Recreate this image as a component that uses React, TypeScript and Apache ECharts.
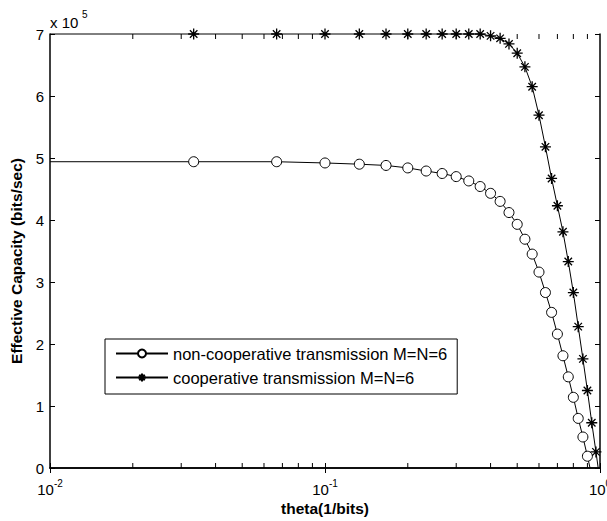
import React, { useEffect, useRef } from "react";
import * as echarts from "echarts";

const theta = [
  0.0333, 0.0667, 0.1, 0.1333, 0.1667, 0.2, 0.2333, 0.2667, 0.3, 0.3333,
  0.3667, 0.4, 0.4333, 0.4667, 0.5, 0.5333, 0.5667, 0.6, 0.6333, 0.6667,
  0.7, 0.7333, 0.7667, 0.8, 0.8333, 0.8667, 0.9, 0.9333, 0.9667, 1.0,
];

// Effective capacity values (x 10^5 bits/sec)
const nonCoopValues = [
  4.94, 4.94, 4.92, 4.9, 4.88, 4.84, 4.79, 4.75, 4.7, 4.63,
  4.54, 4.43, 4.3, 4.12, 3.93, 3.69, 3.45, 3.16, 2.83, 2.51,
  2.16, 1.81, 1.47, 1.14, 0.8, 0.5, 0.19,
];
const coopValues = [
  7.0, 7.0, 7.0, 7.0, 7.0, 7.0, 7.0, 7.0, 7.0, 7.0,
  7.0, 6.97, 6.93, 6.84, 6.69, 6.47, 6.15, 5.69, 5.18, 4.67,
  4.23, 3.81, 3.33, 2.83, 2.28, 1.76, 1.25, 0.73, 0.26,
];
// line ends (no marker): left edge start value and zero crossing theta
const nonCoopStart = [0.01, 4.94];
const nonCoopEnd = [0.92, 0];
const coopStart = [0.01, 7.0];
const coopEnd = [0.985, 0];

const seriesNames = [
  "non-cooperative transmission M=N=6",
  "cooperative transmission M=N=6",
];
const minorTicks = [
  0.02, 0.03, 0.04, 0.05, 0.06, 0.07, 0.08, 0.09,
  0.2, 0.3, 0.4, 0.5, 0.6, 0.7, 0.8, 0.9,
];
const xLabel = "theta(1/bits)";
const yLabel = "Effective Capacity (bits/sec)";

const FONT = "'Liberation Sans', Arial, Helvetica, sans-serif";
const YMAX = 7;
const STAR = "path://M5,0L5,10M0,5L10,5M1.6,1.6L8.4,8.4M8.4,1.6L1.6,8.4";

function buildData(start: number[], vals: number[], end: number[]) {
  const out: any[] = [{ value: start, symbol: "none" }];
  vals.forEach((v, i) => out.push({ value: [theta[i], v] }));
  out.push({ value: end, symbol: "none" });
  return out;
}

export default function App() {
  const ref = useRef<HTMLDivElement>(null);
  useEffect(() => {
    document.body.style.margin = "0";
    const chart = echarts.init(ref.current!, null, { renderer: "svg" });
    const axisLineStyle = { color: "#000", width: 1.5 };
    chart.setOption({
      animation: false,
      backgroundColor: "#fff",
      textStyle: { fontFamily: FONT, color: "#000" },
      grid: { left: 50, right: 7, top: 34, bottom: 53, containLabel: false, outerBoundsMode: "none" },
      xAxis: [
        {
          type: "log",
          logBase: 10,
          min: 0.01,
          max: 1,
          position: "bottom",
          axisLine: { show: true, lineStyle: axisLineStyle },
          axisTick: { show: true, inside: true, length: 5, lineStyle: { color: "#000" } },
          splitLine: { show: false },
          axisLabel: {
            show: true,
            margin: 10,
            color: "#000",
            formatter: (v: number) => {
              const e = Math.round(Math.log10(v));
              return `{b|10}{s|${e}}`;
            },
            rich: {
              b: { fontSize: 15, fontFamily: FONT, color: "#000", verticalAlign: "bottom" },
              s: { fontSize: 10, fontFamily: FONT, color: "#000", verticalAlign: "bottom", padding: [0, 0, 9, 0] },
            },
          },
        },
        {
          type: "log",
          logBase: 10,
          min: 0.01,
          max: 1,
          position: "top",
          axisLine: { show: true, lineStyle: axisLineStyle },
          axisTick: { show: true, inside: true, length: 5, lineStyle: { color: "#000" } },
          splitLine: { show: false },
          axisLabel: { show: false },
        },
      ],
      yAxis: [
        {
          type: "value",
          min: 0,
          max: YMAX,
          interval: 1,
          position: "left",
          axisLine: { show: true, lineStyle: axisLineStyle },
          axisTick: { show: true, inside: true, length: 5, lineStyle: { color: "#000" } },
          splitLine: { show: false },
          axisLabel: { margin: 6, fontSize: 15, color: "#000", fontFamily: FONT },
        },
        {
          type: "value",
          min: 0,
          max: YMAX,
          interval: 1,
          position: "right",
          axisLine: { show: true, lineStyle: axisLineStyle },
          axisTick: { show: true, inside: true, length: 5, lineStyle: { color: "#000" } },
          splitLine: { show: false },
          axisLabel: { show: false },
        },
      ],
      legend: {
        data: seriesNames,
        orient: "vertical",
        left: 105,
        top: 339,
        itemWidth: 52,
        itemHeight: 10,
        itemGap: 7,
        padding: [6, 10, 8, 10],
        borderColor: "#000",
        borderWidth: 1,
        backgroundColor: "#fff",
        textStyle: { fontSize: 16.5, lineHeight: 16, color: "#000", fontFamily: FONT },
      },
      graphic: [
        {
          type: "text",
          x: 16,
          y: 261,
          rotation: Math.PI / 2,
          style: {
            text: yLabel,
            font: `bold 15.5px ${FONT}`,
            fill: "#000",
            textAlign: "center",
            textVerticalAlign: "middle",
          },
        },
        {
          type: "text",
          x: 325,
          y: 508,
          style: {
            text: xLabel,
            font: `bold 15.5px ${FONT}`,
            fill: "#000",
            textAlign: "center",
            textVerticalAlign: "middle",
          },
        },
        {
          type: "text",
          x: 50,
          y: 22,
          style: {
            text: "x 10",
            font: `15px ${FONT}`,
            fill: "#000",
            textAlign: "left",
            textVerticalAlign: "middle",
          },
        },
        {
          type: "text",
          x: 82,
          y: 14,
          style: {
            text: "5",
            font: `10px ${FONT}`,
            fill: "#000",
            textAlign: "left",
            textVerticalAlign: "middle",
          },
        },
      ],
      series: [
        {
          name: seriesNames[0],
          type: "line",
          xAxisIndex: 0,
          yAxisIndex: 0,
          data: buildData(nonCoopStart, nonCoopValues, nonCoopEnd),
          symbol: "circle",
          symbolSize: 10,
          showAllSymbol: true,
          lineStyle: { color: "#000", width: 1 },
          itemStyle: { color: "#fff", borderColor: "#000", borderWidth: 1 },
          clip: true,
          z: 3,
        },
        {
          name: seriesNames[1],
          type: "line",
          xAxisIndex: 0,
          yAxisIndex: 0,
          data: buildData(coopStart, coopValues, coopEnd),
          symbol: STAR,
          symbolSize: 11,
          showAllSymbol: true,
          lineStyle: { color: "#000", width: 1 },
          itemStyle: { color: "#000", borderColor: "#000", borderWidth: 1.3 },
          clip: false,
          z: 3,
        },
        {
          type: "custom",
          xAxisIndex: 0,
          yAxisIndex: 0,
          silent: true,
          clip: false,
          z: 4,
          data: minorTicks.map((v) => [v, 0]),
          renderItem: (_params: any, api: any) => {
            const v = api.value(0);
            const b = api.coord([v, 0]);
            const t = api.coord([v, YMAX]);
            const st = { stroke: "#000", lineWidth: 1 };
            return {
              type: "group",
              children: [
                { type: "line", shape: { x1: b[0], y1: b[1], x2: b[0], y2: b[1] - 5 }, style: st },
                { type: "line", shape: { x1: t[0], y1: t[1], x2: t[0], y2: t[1] + 5 }, style: st },
              ],
            };
          },
        },
      ],
    });
    return () => chart.dispose();
  }, []);
  return <div ref={ref} style={{ width: 607, height: 521 }} />;
}
